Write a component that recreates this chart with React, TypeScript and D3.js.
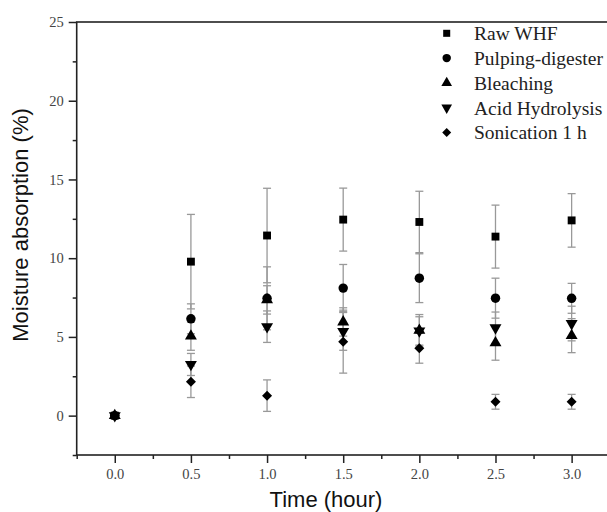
import React, { useEffect, useRef } from "react";
import * as d3 from "d3";

const times = [0, 0.5, 1.0, 1.5, 2.0, 2.5, 3.0];
const seriesNames = ["Raw WHF", "Pulping-digester", "Bleaching", "Acid Hydrolysis", "Sonication 1 h"];
const rawWHF = [0, 9.78, 11.44, 12.45, 12.3, 11.37, 12.4];
const rawWHFErr = [0, 3.0, 3.0, 2.0, 1.95, 2.0, 1.7];
const pulping = [0, 6.15, 7.45, 8.1, 8.73, 7.46, 7.45];
const pulpingErr = [0, 0.95, 2.0, 1.5, 1.55, 1.27, 0.95];
const bleaching = [0, 5.05, 7.35, 5.95, 5.42, 4.62, 5.08];
const bleachingErr = [0, 0.9, 0.9, 0.9, 1.0, 1.1, 1.08];
const acid = [0, 3.25, 5.65, 5.35, 5.38, 5.58, 5.85];
const acidErr = [0, 0.7, 1.0, 1.2, 0.9, 1.0, 1.1];
const sonication = [0, 2.15, 1.27, 4.7, 4.28, 0.88, 0.88];
const sonicationErr = [0, 1.0, 1.0, 2.0, 0.95, 0.47, 0.47];
const xMajor = [0, 0.5, 1.0, 1.5, 2.0, 2.5, 3.0];
const xMinor = [-0.25, 0.25, 0.75, 1.25, 1.75, 2.25, 2.75, 3.25];
const yMajor = [0, 5, 10, 15, 20, 25];
const yMinor = [-2.5, 2.5, 7.5, 12.5, 17.5, 22.5];

const W = 607;
const H = 512;
const left = 76.7;
const right = 609.7;
const top = 22;
const bottom = 455;
const serif = "'Liberation Serif', 'Times New Roman', serif";
const sans = "'Liberation Sans', Arial, sans-serif";

export default function App() {
  const ref = useRef<SVGSVGElement>(null);

  useEffect(() => {
    const svg = d3.select(ref.current);
    svg.selectAll("*").remove();

    const x = d3.scaleLinear().domain([-0.25, 3.25]).range([left, right]);
    const y = d3.scaleLinear().domain([-2.5, 25]).range([bottom, top]);

    const shapes = [
      { type: d3.symbolSquare, size: 62, rot: 0 },
      { type: d3.symbolCircle, size: 70, rot: 0 },
      { type: d3.symbolTriangle, size: 62, rot: 0 },
      { type: d3.symbolTriangle, size: 62, rot: 180 },
      { type: d3.symbolSquare, size: 50, rot: 45 },
    ];
    const vals = [rawWHF, pulping, bleaching, acid, sonication];
    const errs = [rawWHFErr, pulpingErr, bleachingErr, acidErr, sonicationErr];

    const styleAxis = (g: any, labels: boolean) => {
      g.select(".domain").remove();
      g.attr("font-family", serif).attr("font-size", 14.5);
      if (labels) g.selectAll("text").attr("fill", "#444");
      g.selectAll("line").attr("stroke", "#222").attr("stroke-width", 1.5);
    };

    // axes
    const gx = svg.append("g").attr("transform", `translate(0,${bottom})`);
    gx.call(d3.axisBottom(x).tickValues(xMajor).tickSize(8).tickPadding(6).tickFormat(d3.format(".1f")));
    styleAxis(gx, true);
    const gxm = svg.append("g").attr("transform", `translate(0,${bottom})`);
    gxm.call(d3.axisBottom(x).tickValues(xMinor).tickSize(4).tickFormat(() => ""));
    styleAxis(gxm, false);

    const gy = svg.append("g").attr("transform", `translate(${left},0)`);
    gy.call(d3.axisLeft(y).tickValues(yMajor).tickSize(8).tickPadding(5));
    styleAxis(gy, true);
    const gym = svg.append("g").attr("transform", `translate(${left},0)`);
    gym.call(d3.axisLeft(y).tickValues(yMinor).tickSize(4).tickFormat(() => ""));
    styleAxis(gym, false);

    // frame
    svg
      .append("rect")
      .attr("x", left)
      .attr("y", top)
      .attr("width", right - left)
      .attr("height", bottom - top)
      .attr("fill", "none")
      .attr("stroke", "#222")
      .attr("stroke-width", 1.6);

    // error bars
    const eb = svg.append("g").attr("stroke", "#999").attr("stroke-width", 1.3);
    vals.forEach((vs, si) => {
      vs.forEach((v, i) => {
        const e = errs[si][i];
        if (!e) return;
        const cx = x(times[i]);
        eb.append("line").attr("x1", cx).attr("x2", cx).attr("y1", y(v - e)).attr("y2", y(v + e));
        [v - e, v + e].forEach((c) => {
          eb.append("line").attr("x1", cx - 4).attr("x2", cx + 4).attr("y1", y(c)).attr("y2", y(c));
        });
      });
    });

    // markers
    vals.forEach((vs, si) => {
      const s = shapes[si];
      svg
        .append("g")
        .selectAll("path")
        .data(vs)
        .enter()
        .append("path")
        .attr("d", d3.symbol().type(s.type).size(s.size)())
        .attr("transform", (d, i) => `translate(${x(times[i])},${y(d)}) rotate(${s.rot})`)
        .attr("fill", "#000");
    });

    // legend
    const lg = svg.append("g");
    seriesNames.forEach((name, i) => {
      const s = shapes[i];
      const ly = 33.3 + i * 24.8;
      lg.append("path")
        .attr("d", d3.symbol().type(s.type).size(s.size * 0.8)())
        .attr("transform", `translate(446.7,${ly}) rotate(${s.rot})`)
        .attr("fill", "#000");
      lg.append("text")
        .attr("x", 474)
        .attr("y", ly)
        .attr("dy", "0.35em")
        .attr("font-family", serif)
        .attr("font-size", 19.5)
        .attr("fill", "#222")
        .text(name);
    });

    // titles
    svg
      .append("text")
      .attr("x", 326)
      .attr("y", 507)
      .attr("text-anchor", "middle")
      .attr("font-family", sans)
      .attr("font-size", 22)
      .attr("fill", "#111")
      .text("Time (hour)");
    svg
      .append("text")
      .attr("transform", `translate(28,225) rotate(-90)`)
      .attr("text-anchor", "middle")
      .attr("font-family", sans)
      .attr("font-size", 22)
      .attr("fill", "#111")
      .text("Moisture absorption (%)");
  }, []);

  return (
    <svg
      ref={ref}
      width={W}
      height={H}
      style={{ position: "absolute", left: 0, top: 0, background: "#fff" }}
    />
  );
}
